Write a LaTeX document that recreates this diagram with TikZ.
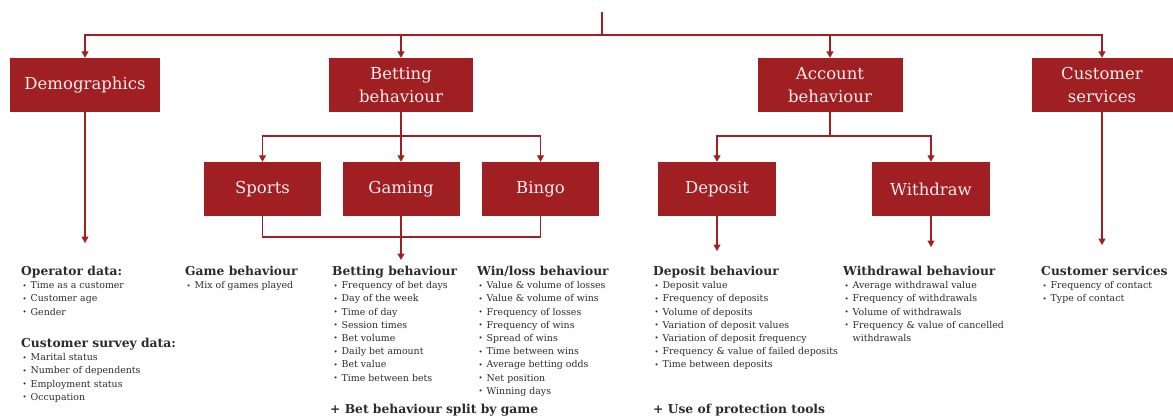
\documentclass[tikz,border=0pt]{standalone}
\usepackage{fontspec}
\setmainfont{DejaVu Serif}
\usetikzlibrary{arrows.meta}
\definecolor{pwred}{HTML}{A01F23}
\definecolor{boxtext}{HTML}{F7EDED}
\definecolor{bodytext}{HTML}{2B2B2B}
\newcommand\itm[1]{\hspace*{1.5pt}\makebox[8pt][l]{\raisebox{0.6pt}{\fontsize{7}{7}\selectfont\textbullet}}#1}
\newcommand\hd[1]{{\fontsize{12.3}{13}\selectfont\bfseries #1}}
\begin{document}
\begin{tikzpicture}[x=1pt,y=-1pt,
  box/.style={fill=pwred, text=boxtext, font=\fontsize{16.5}{22.5}\selectfont, align=center, minimum height=54pt, inner sep=0pt},
  link/.style={draw=pwred, line width=1.1pt},
  arr/.style={link, -{Triangle[width=7pt,length=6.5pt]}},
  col/.style={anchor=north west, align=left, inner sep=0pt, text=bodytext, font=\fontsize{9.4}{13.2}\selectfont},
]
\useasboundingbox (0,0) rectangle (1173,416);
\clip (0,0) rectangle (1173,416);

% top level boxes
\node[box, minimum width=150pt] (demo) at (85,85) {Demographics};
\node[box, minimum width=144pt] (bet) at (401,85) {Betting\\behaviour};
\node[box, minimum width=145pt] (acc) at (830,85) {Account\\behaviour};
\node[box, minimum width=141pt] (cust) at (1102,85) {Customer\\services};

% second level boxes
\node[box, minimum width=117pt] (sports) at (262.5,189) {Sports};
\node[box, minimum width=117pt] (gaming) at (401,189) {Gaming};
\node[box, minimum width=117pt] (bingo) at (540.5,189) {Bingo};
\node[box, minimum width=118pt] (dep) at (717,189) {Deposit};
\node[box, minimum width=118pt] (wd) at (931,189) {Withdraw};

% coordinates
\coordinate (top) at (602,12);
\coordinate (bus) at (602,35);
\coordinate (bbus) at (401,136);
\coordinate (abus) at (830,136);
\coordinate (gbus) at (401,237);
\coordinate (tdemo) at (85,243);
\coordinate (tbet) at (401,260);
\coordinate (tdep) at (717,251);
\coordinate (twd) at (931,247);
\coordinate (tcust) at (1102,245);

% connectors
\draw[link] (top) -- (bus);
\draw[arr] (bus) -| (demo.north);
\draw[arr] (bus) -| (bet.north);
\draw[arr] (bus) -| (acc.north);
\draw[arr] (bus) -| (cust.north);
\draw[link] (bet.south) -- (bbus);
\draw[arr] (bbus) -| (sports.north);
\draw[arr] (bbus) -- (gaming.north);
\draw[arr] (bbus) -| (bingo.north);
\draw[link] (acc.south) -- (abus);
\draw[arr] (abus) -| (dep.north);
\draw[arr] (abus) -| (wd.north);
\draw[link] (sports.south) |- (gbus) -| (bingo.south);
\draw[arr] (gaming.south) -- (tbet);
\draw[arr] (demo.south) -- (tdemo);
\draw[arr] (dep.south) -- (tdep);
\draw[arr] (wd.south) -- (twd);
\draw[arr] (cust.south) -- (tcust);

% text columns
\node[col] (opd) at (21,266) {\hd{Operator data:}\\
  \itm{Time as a customer}\\ \itm{Customer age}\\ \itm{Gender}};
\node[col] (survey) at (21,338) {\hd{Customer survey data:}\\
  \itm{Marital status}\\ \itm{Number of dependents}\\ \itm{Employment status}\\ \itm{Occupation}};
\node[col] (game) at (185,266) {\hd{Game behaviour}\\ \itm{Mix of games played}};
\node[col] (betb) at (332,266) {\hd{Betting behaviour}\\
  \itm{Frequency of bet days}\\ \itm{Day of the week}\\ \itm{Time of day}\\ \itm{Session times}\\
  \itm{Bet volume}\\ \itm{Daily bet amount}\\ \itm{Bet value}\\ \itm{Time between bets}};
\node[col] (winl) at (477,266) {\hd{Win/loss behaviour}\\
  \itm{Value \& volume of losses}\\ \itm{Value \& volume of wins}\\ \itm{Frequency of losses}\\
  \itm{Frequency of wins}\\ \itm{Spread of wins}\\ \itm{Time between wins}\\
  \itm{Average betting odds}\\ \itm{Net position}\\ \itm{Winning days}};
\node[col] (depb) at (653,266) {\hd{Deposit behaviour}\\
  \itm{Deposit value}\\ \itm{Frequency of deposits}\\ \itm{Volume of deposits}\\
  \itm{Variation of deposit values}\\ \itm{Variation of deposit frequency}\\
  \itm{Frequency \& value of failed deposits}\\ \itm{Time between deposits}};
\node[col] (wdb) at (843,266) {\hd{Withdrawal behaviour}\\
  \itm{Average withdrawal value}\\ \itm{Frequency of withdrawals}\\ \itm{Volume of withdrawals}\\
  \itm{Frequency \& value of cancelled}\\ \hspace*{9.5pt}withdrawals};
\node[col] (custb) at (1041,266) {\hd{Customer services}\\
  \itm{Frequency of contact}\\ \itm{Type of contact}};
\node[col] (plusbet) at (330,404) {\hd{+ Bet behaviour split by game}};
\node[col] (plusprot) at (653,404) {\hd{+ Use of protection tools}};
\end{tikzpicture}
\end{document}
